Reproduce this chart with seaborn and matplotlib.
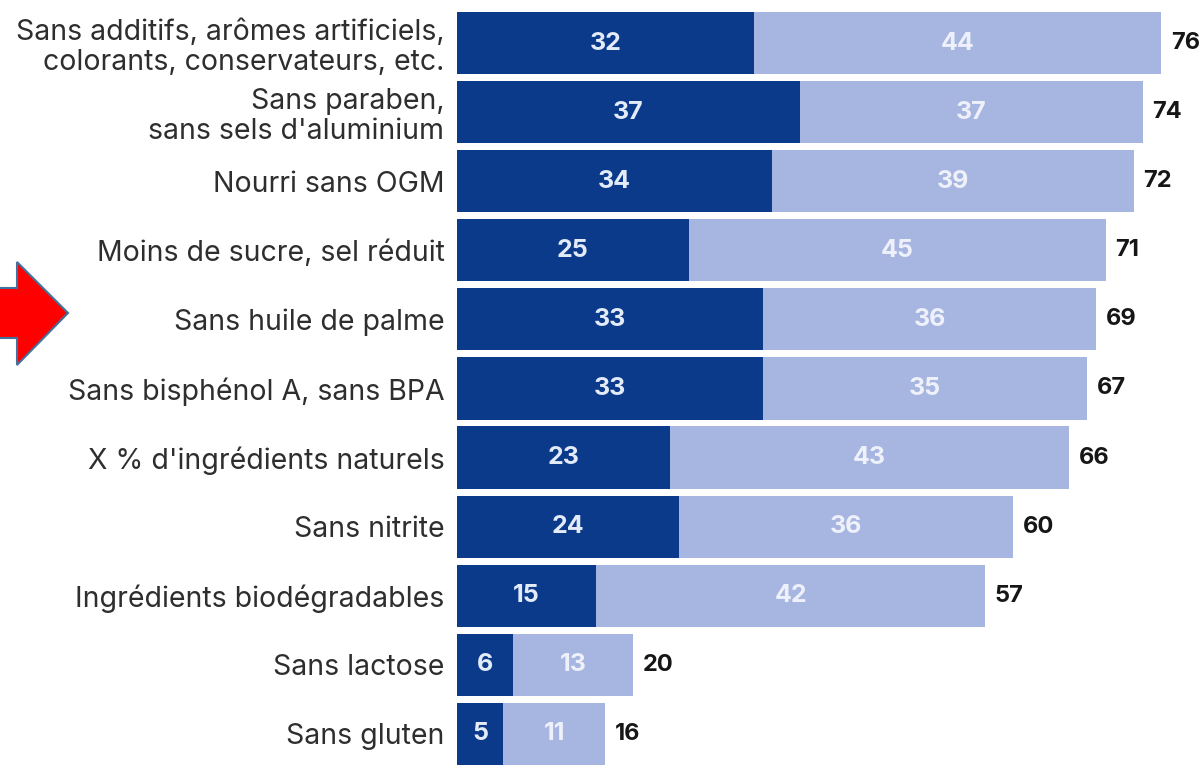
import matplotlib
matplotlib.use("Agg")
import matplotlib.pyplot as plt
from matplotlib.patches import Polygon
import seaborn as sns
import pandas as pd

categories = [
    "Sans additifs, arômes artificiels,\ncolorants, conservateurs, etc.",
    "Sans paraben,\nsans sels d'aluminium",
    "Nourri sans OGM",
    "Moins de sucre, sel réduit",
    "Sans huile de palme",
    "Sans bisphénol A, sans BPA",
    "X % d'ingrédients naturels",
    "Sans nitrite",
    "Ingrédients biodégradables",
    "Sans lactose",
    "Sans gluten",
]
dark_values = [32, 37, 34, 25, 33, 33, 23, 24, 15, 6, 5]
light_values = [44, 37, 39, 45, 36, 35, 43, 36, 42, 13, 11]
totals = [76, 74, 72, 71, 69, 67, 66, 60, 57, 20, 16]

DARK = "#0c3a8b"
LIGHT = "#a7b5e1"

sns.set_theme(style="white")
plt.rcParams["font.family"] = ["Inter", "DejaVu Sans"]

df = pd.DataFrame({
    "categorie": categories,
    "fort": dark_values,
    "moyen": light_values,
})
df["cumul"] = df["fort"] + df["moyen"]

W, H = 1204, 778
fig = plt.figure(figsize=(W / 100, H / 100), dpi=100)
ax = fig.add_axes([457 / W, 1 - 768.5 / H, 1 - 457 / W, 760 / H])

# light segment: full stacked length, then dark segment on top of it
sns.barplot(data=df, y="categorie", x="cumul", color=LIGHT, saturation=1,
            width=0.9, orient="h", ax=ax, linewidth=0)
sns.barplot(data=df, y="categorie", x="fort", color=DARK, saturation=1,
            width=0.9, orient="h", ax=ax, linewidth=0)

ax.set_xlim(0, 80.6)
ax.set_ylim(len(categories) - 0.5, -0.5)
ax.set_xlabel("")
ax.set_ylabel("")
ax.set_xticks([])
for s in ax.spines.values():
    s.set_visible(False)
ax.tick_params(axis="y", length=0, pad=9)
for lab in ax.get_yticklabels():
    lab.set_fontsize(20.5)
    lab.set_color("#2e2e2e")
    lab.set_linespacing(1.15)

for i, (d, l, t) in enumerate(zip(dark_values, light_values, totals)):
    ax.text(d / 2, i, str(d), ha="center", va="center", fontsize=18,
            fontweight="bold", color="#e3ebf8")
    ax.text(d + l / 2, i, str(l), ha="center", va="center", fontsize=18,
            fontweight="bold", color="#eef1fa")
    ax.annotate(str(t), xy=(d + l, i), xytext=(7, 0),
                textcoords="offset points", ha="left", va="center",
                fontsize=17, fontweight="bold", color="#161616")

# red pointer arrow on the left margin
pts = [(-2, 288), (17, 288), (17, 262), (68, 313), (17, 365), (17, 338), (-2, 338)]
arrow = Polygon([(x / W, 1 - y / H) for x, y in pts], closed=True,
                transform=fig.transFigure, facecolor="#ff0000",
                edgecolor="#41719c", linewidth=1.5, clip_on=False)
fig.add_artist(arrow)

fig.savefig("out.png", dpi=100, facecolor="white")
